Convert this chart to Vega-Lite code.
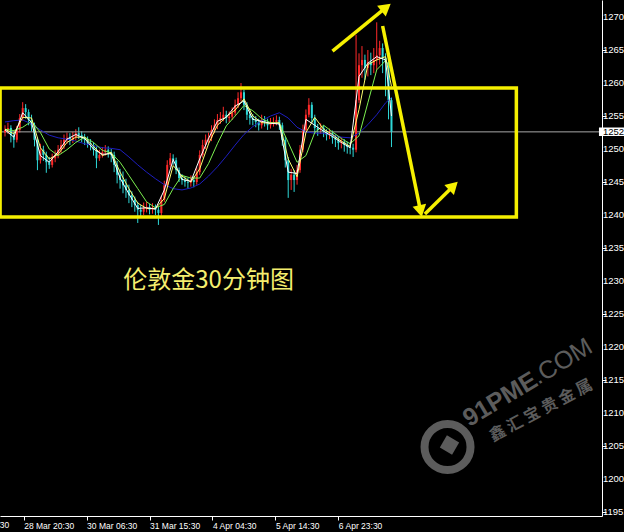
{
"$schema": "https://vega.github.io/schema/vega-lite/v6.json",
"width": 602, "height": 516,
"autosize": {"type": "none"},
"padding": {"left": 0, "top": 0, "right": 22, "bottom": 16},
"background": "#000000",
"config": {"view": {"stroke": null, "fill": "#000000"},
"axis": {"labelOverlap": false, "labelFlush": false, "labelBound": false, "grid": false, "title": null,
"domainColor": "#FFFFFF", "tickColor": "#FFFFFF", "tickSize": 4, "labelColor": "#FFFFFF",
"labelFont": "Liberation Sans", "labelFontSize": 8.5},
"axisX": {"labelAlign": "left", "labelBaseline": "top", "labelPadding": 1, "labelOffset": 0, "labelOverlap": false},
"axisY": {"labels": false}},
"datasets": {
"candles": [
{"t":0,"o":1252.5,"h":1253.6,"l":1251.9,"c":1252.9},
{"t":3,"o":1252.9,"h":1254.0,"l":1252.3,"c":1253.2},
{"t":6,"o":1253.2,"h":1253.6,"l":1251.0,"c":1252.1},
{"t":9,"o":1252.1,"h":1252.6,"l":1250.2,"c":1251.4},
{"t":12,"o":1251.4,"h":1253.5,"l":1251.0,"c":1252.9},
{"t":15,"o":1252.9,"h":1255.3,"l":1252.5,"c":1254.7},
{"t":18,"o":1254.7,"h":1257.1,"l":1254.3,"c":1256.2},
{"t":21,"o":1256.2,"h":1256.8,"l":1254.6,"c":1255.6},
{"t":24,"o":1255.6,"h":1256.0,"l":1253.6,"c":1254.4},
{"t":27,"o":1254.4,"h":1255.2,"l":1252.7,"c":1253.6},
{"t":30,"o":1253.6,"h":1254.0,"l":1250.4,"c":1251.4},
{"t":33,"o":1251.4,"h":1251.8,"l":1246.8,"c":1248.3},
{"t":36,"o":1248.3,"h":1250.8,"l":1247.8,"c":1249.9},
{"t":39,"o":1249.9,"h":1250.5,"l":1248.2,"c":1249.1},
{"t":42,"o":1249.1,"h":1249.6,"l":1246.4,"c":1248.0},
{"t":45,"o":1248.0,"h":1248.8,"l":1247.0,"c":1247.6},
{"t":48,"o":1247.6,"h":1249.3,"l":1247.2,"c":1248.6},
{"t":51,"o":1248.6,"h":1249.8,"l":1248.0,"c":1249.1},
{"t":54,"o":1249.1,"h":1250.6,"l":1248.6,"c":1249.9},
{"t":57,"o":1249.9,"h":1251.4,"l":1249.4,"c":1250.6},
{"t":60,"o":1250.6,"h":1252.2,"l":1250.0,"c":1251.4},
{"t":63,"o":1251.4,"h":1252.5,"l":1250.8,"c":1251.7},
{"t":66,"o":1251.7,"h":1252.4,"l":1250.6,"c":1251.4},
{"t":69,"o":1251.4,"h":1252.6,"l":1250.9,"c":1251.8},
{"t":72,"o":1251.8,"h":1253.0,"l":1251.3,"c":1252.4},
{"t":75,"o":1252.4,"h":1253.3,"l":1251.5,"c":1252.1},
{"t":78,"o":1252.1,"h":1252.7,"l":1251.0,"c":1251.8},
{"t":81,"o":1251.8,"h":1252.3,"l":1250.6,"c":1251.4},
{"t":84,"o":1251.4,"h":1251.9,"l":1250.2,"c":1250.9},
{"t":87,"o":1250.9,"h":1251.5,"l":1249.8,"c":1250.6},
{"t":90,"o":1250.6,"h":1251.0,"l":1249.0,"c":1249.9},
{"t":93,"o":1249.9,"h":1250.3,"l":1247.1,"c":1248.6},
{"t":96,"o":1248.6,"h":1249.9,"l":1248.2,"c":1249.1},
{"t":99,"o":1249.1,"h":1250.3,"l":1248.7,"c":1249.5},
{"t":102,"o":1249.5,"h":1250.6,"l":1249.0,"c":1249.9},
{"t":105,"o":1249.9,"h":1250.4,"l":1248.7,"c":1249.5},
{"t":108,"o":1249.5,"h":1250.0,"l":1248.0,"c":1249.1},
{"t":111,"o":1249.1,"h":1249.6,"l":1246.5,"c":1247.6},
{"t":114,"o":1247.6,"h":1248.2,"l":1244.8,"c":1246.1},
{"t":117,"o":1246.1,"h":1247.0,"l":1244.0,"c":1245.3},
{"t":120,"o":1245.3,"h":1246.6,"l":1243.3,"c":1244.5},
{"t":123,"o":1244.5,"h":1245.5,"l":1242.6,"c":1243.8},
{"t":126,"o":1243.8,"h":1244.6,"l":1241.8,"c":1243.0},
{"t":129,"o":1243.0,"h":1243.6,"l":1241.2,"c":1242.3},
{"t":132,"o":1242.3,"h":1242.8,"l":1240.5,"c":1241.5},
{"t":135,"o":1241.5,"h":1242.0,"l":1238.8,"c":1240.8},
{"t":138,"o":1240.8,"h":1241.5,"l":1239.8,"c":1240.5},
{"t":141,"o":1240.5,"h":1241.9,"l":1240.0,"c":1241.1},
{"t":144,"o":1241.1,"h":1242.0,"l":1240.4,"c":1241.2},
{"t":147,"o":1241.2,"h":1241.7,"l":1240.1,"c":1240.8},
{"t":150,"o":1240.8,"h":1241.8,"l":1240.2,"c":1241.1},
{"t":153,"o":1241.1,"h":1241.6,"l":1240.0,"c":1240.8},
{"t":156,"o":1240.8,"h":1241.2,"l":1238.5,"c":1240.3},
{"t":159,"o":1240.3,"h":1242.9,"l":1239.9,"c":1242.3},
{"t":162,"o":1242.3,"h":1245.2,"l":1242.0,"c":1244.5},
{"t":165,"o":1244.5,"h":1248.3,"l":1244.2,"c":1247.6},
{"t":168,"o":1247.6,"h":1249.4,"l":1247.2,"c":1248.6},
{"t":171,"o":1248.6,"h":1249.2,"l":1247.6,"c":1248.3},
{"t":174,"o":1248.3,"h":1248.7,"l":1246.2,"c":1246.8},
{"t":177,"o":1246.8,"h":1247.2,"l":1245.0,"c":1245.6},
{"t":180,"o":1245.6,"h":1246.2,"l":1244.6,"c":1245.3},
{"t":183,"o":1245.3,"h":1245.9,"l":1244.3,"c":1245.0},
{"t":186,"o":1245.0,"h":1245.6,"l":1244.0,"c":1244.9},
{"t":189,"o":1244.9,"h":1246.0,"l":1244.3,"c":1245.3},
{"t":192,"o":1245.3,"h":1245.9,"l":1244.2,"c":1245.0},
{"t":195,"o":1245.0,"h":1247.2,"l":1244.6,"c":1246.5},
{"t":198,"o":1246.5,"h":1249.8,"l":1246.1,"c":1249.1},
{"t":201,"o":1249.1,"h":1251.4,"l":1248.7,"c":1250.6},
{"t":204,"o":1250.6,"h":1252.2,"l":1250.0,"c":1251.4},
{"t":207,"o":1251.4,"h":1252.5,"l":1250.8,"c":1251.7},
{"t":210,"o":1251.7,"h":1253.6,"l":1251.2,"c":1252.9},
{"t":213,"o":1252.9,"h":1254.5,"l":1252.4,"c":1253.6},
{"t":216,"o":1253.6,"h":1255.3,"l":1253.0,"c":1254.4},
{"t":219,"o":1254.4,"h":1255.6,"l":1253.8,"c":1254.7},
{"t":222,"o":1254.7,"h":1256.4,"l":1254.2,"c":1255.2},
{"t":225,"o":1255.2,"h":1255.8,"l":1253.9,"c":1254.7},
{"t":228,"o":1254.7,"h":1255.7,"l":1254.1,"c":1254.9},
{"t":231,"o":1254.9,"h":1256.3,"l":1254.4,"c":1255.5},
{"t":234,"o":1255.5,"h":1257.5,"l":1255.1,"c":1256.7},
{"t":237,"o":1256.7,"h":1258.6,"l":1256.2,"c":1257.7},
{"t":240,"o":1257.7,"h":1260.0,"l":1257.2,"c":1258.6},
{"t":243,"o":1258.6,"h":1259.0,"l":1255.9,"c":1256.7},
{"t":246,"o":1256.7,"h":1257.1,"l":1254.4,"c":1255.2},
{"t":249,"o":1255.2,"h":1255.8,"l":1253.7,"c":1254.7},
{"t":252,"o":1254.7,"h":1255.3,"l":1253.6,"c":1254.4},
{"t":255,"o":1254.4,"h":1255.0,"l":1253.3,"c":1254.1},
{"t":258,"o":1254.1,"h":1254.6,"l":1252.8,"c":1253.6},
{"t":261,"o":1253.6,"h":1255.2,"l":1253.1,"c":1254.4},
{"t":264,"o":1254.4,"h":1255.0,"l":1253.4,"c":1254.1},
{"t":267,"o":1254.1,"h":1254.6,"l":1252.9,"c":1253.6},
{"t":270,"o":1253.6,"h":1254.7,"l":1253.1,"c":1253.9},
{"t":273,"o":1253.9,"h":1254.8,"l":1253.4,"c":1254.1},
{"t":276,"o":1254.1,"h":1255.1,"l":1253.6,"c":1254.4},
{"t":279,"o":1254.4,"h":1254.9,"l":1252.9,"c":1253.6},
{"t":282,"o":1253.6,"h":1254.0,"l":1250.5,"c":1251.4},
{"t":285,"o":1251.4,"h":1251.9,"l":1247.2,"c":1248.3},
{"t":288,"o":1248.3,"h":1248.8,"l":1242.6,"c":1245.3},
{"t":291,"o":1245.3,"h":1247.0,"l":1243.8,"c":1246.1},
{"t":294,"o":1246.1,"h":1246.8,"l":1243.5,"c":1245.3},
{"t":297,"o":1245.3,"h":1247.6,"l":1244.6,"c":1246.8},
{"t":300,"o":1246.8,"h":1250.6,"l":1246.4,"c":1249.9},
{"t":303,"o":1249.9,"h":1253.7,"l":1249.5,"c":1252.9},
{"t":306,"o":1252.9,"h":1256.0,"l":1252.5,"c":1255.2},
{"t":309,"o":1255.2,"h":1257.7,"l":1254.8,"c":1256.7},
{"t":312,"o":1256.7,"h":1257.1,"l":1253.9,"c":1254.7},
{"t":315,"o":1254.7,"h":1255.2,"l":1252.4,"c":1253.2},
{"t":318,"o":1253.2,"h":1253.8,"l":1252.0,"c":1252.9},
{"t":321,"o":1252.9,"h":1253.9,"l":1252.3,"c":1253.2},
{"t":324,"o":1253.2,"h":1253.6,"l":1251.8,"c":1252.6},
{"t":327,"o":1252.6,"h":1253.0,"l":1251.3,"c":1252.1},
{"t":330,"o":1252.1,"h":1253.1,"l":1251.5,"c":1252.4},
{"t":333,"o":1252.4,"h":1252.8,"l":1250.8,"c":1251.7},
{"t":336,"o":1251.7,"h":1252.2,"l":1250.3,"c":1251.4},
{"t":339,"o":1251.4,"h":1251.8,"l":1249.9,"c":1250.9},
{"t":342,"o":1250.9,"h":1251.8,"l":1250.1,"c":1251.1},
{"t":345,"o":1251.1,"h":1251.5,"l":1249.6,"c":1250.6},
{"t":348,"o":1250.6,"h":1251.1,"l":1249.3,"c":1250.3},
{"t":351,"o":1250.3,"h":1251.0,"l":1249.2,"c":1250.2},
{"t":354,"o":1250.2,"h":1250.8,"l":1248.8,"c":1249.9},
{"t":357,"o":1249.9,"h":1267.3,"l":1249.5,"c":1257.4},
{"t":360,"o":1257.4,"h":1264.5,"l":1257.0,"c":1262.7},
{"t":363,"o":1262.7,"h":1265.6,"l":1260.8,"c":1263.5},
{"t":366,"o":1263.5,"h":1264.3,"l":1260.5,"c":1262.3},
{"t":369,"o":1262.3,"h":1265.0,"l":1261.0,"c":1263.2},
{"t":372,"o":1263.2,"h":1264.6,"l":1261.2,"c":1262.7},
{"t":375,"o":1262.7,"h":1265.3,"l":1261.5,"c":1263.5},
{"t":378,"o":1263.5,"h":1269.2,"l":1262.0,"c":1264.2},
{"t":381,"o":1264.2,"h":1266.4,"l":1262.8,"c":1265.3},
{"t":384,"o":1265.3,"h":1266.0,"l":1261.5,"c":1263.8},
{"t":387,"o":1263.8,"h":1264.5,"l":1258.0,"c":1263.2},
{"t":390,"o":1263.2,"h":1263.6,"l":1254.5,"c":1257.4},
{"t":393,"o":1257.4,"h":1257.8,"l":1250.3,"c":1252.6}
],
"ma": [
{"t":0,"white":1252.9,"yellow":1253.0,"green":1253.0,"blue":1254.1},
{"t":9,"white":1251.8,"yellow":1252.3,"green":1252.8,"blue":1254.3},
{"t":18,"white":1255.5,"yellow":1254.8,"green":1253.3,"blue":1254.4},
{"t":27,"white":1254.0,"yellow":1254.7,"green":1254.2,"blue":1253.8},
{"t":36,"white":1249.0,"yellow":1250.2,"green":1252.5,"blue":1252.9},
{"t":45,"white":1248.0,"yellow":1248.5,"green":1250.0,"blue":1252.1},
{"t":54,"white":1249.6,"yellow":1249.2,"green":1249.0,"blue":1251.7},
{"t":63,"white":1251.5,"yellow":1251.0,"green":1249.9,"blue":1251.5},
{"t":72,"white":1252.2,"yellow":1251.8,"green":1251.0,"blue":1251.2},
{"t":81,"white":1251.6,"yellow":1251.8,"green":1251.8,"blue":1250.8},
{"t":90,"white":1250.0,"yellow":1250.4,"green":1251.0,"blue":1250.5},
{"t":99,"white":1249.2,"yellow":1249.0,"green":1249.8,"blue":1250.2},
{"t":108,"white":1249.3,"yellow":1249.5,"green":1249.4,"blue":1250.1},
{"t":117,"white":1245.6,"yellow":1246.5,"green":1248.0,"blue":1249.9},
{"t":126,"white":1243.2,"yellow":1244.0,"green":1246.0,"blue":1248.8},
{"t":135,"white":1241.0,"yellow":1241.8,"green":1244.0,"blue":1247.6},
{"t":144,"white":1241.1,"yellow":1241.0,"green":1242.0,"blue":1246.5},
{"t":153,"white":1240.9,"yellow":1241.0,"green":1241.1,"blue":1245.5},
{"t":162,"white":1243.8,"yellow":1242.5,"green":1241.6,"blue":1244.6},
{"t":171,"white":1248.4,"yellow":1247.5,"green":1244.0,"blue":1244.0},
{"t":180,"white":1245.4,"yellow":1245.9,"green":1246.0,"blue":1243.8},
{"t":189,"white":1245.1,"yellow":1245.0,"green":1245.6,"blue":1244.1},
{"t":198,"white":1248.5,"yellow":1247.0,"green":1245.6,"blue":1244.7},
{"t":207,"white":1251.6,"yellow":1250.8,"green":1247.8,"blue":1245.9},
{"t":216,"white":1254.2,"yellow":1253.6,"green":1250.8,"blue":1247.3},
{"t":225,"white":1254.8,"yellow":1254.9,"green":1253.5,"blue":1248.9},
{"t":234,"white":1256.5,"yellow":1255.9,"green":1255.0,"blue":1250.6},
{"t":243,"white":1257.3,"yellow":1257.6,"green":1256.6,"blue":1252.2},
{"t":252,"white":1254.5,"yellow":1255.0,"green":1255.8,"blue":1253.4},
{"t":261,"white":1254.2,"yellow":1254.0,"green":1254.6,"blue":1254.3},
{"t":270,"white":1253.9,"yellow":1253.9,"green":1254.0,"blue":1255.0},
{"t":279,"white":1253.8,"yellow":1254.0,"green":1253.9,"blue":1255.5},
{"t":288,"white":1246.5,"yellow":1248.5,"green":1251.0,"blue":1254.7},
{"t":297,"white":1246.3,"yellow":1245.8,"green":1248.0,"blue":1253.3},
{"t":306,"white":1254.5,"yellow":1252.5,"green":1249.0,"blue":1252.6},
{"t":315,"white":1253.6,"yellow":1254.8,"green":1252.5,"blue":1252.4},
{"t":324,"white":1252.7,"yellow":1253.0,"green":1253.6,"blue":1252.4},
{"t":333,"white":1251.9,"yellow":1252.2,"green":1252.6,"blue":1252.1},
{"t":342,"white":1251.0,"yellow":1251.2,"green":1251.6,"blue":1251.8},
{"t":351,"white":1250.2,"yellow":1250.4,"green":1250.8,"blue":1251.7},
{"t":360,"white":1261.0,"yellow":1256.0,"green":1252.0,"blue":1252.4},
{"t":369,"white":1263.0,"yellow":1262.8,"green":1257.0,"blue":1253.7},
{"t":378,"white":1264.0,"yellow":1263.5,"green":1262.0,"blue":1255.2},
{"t":387,"white":1263.5,"yellow":1264.0,"green":1263.4,"blue":1257.0},
{"t":393,"white":1255.0,"yellow":1259.5,"green":1262.0,"blue":1257.8}
],
"yticks": [
{"v":1195},{"v":1200},{"v":1205},{"v":1210},{"v":1215},{"v":1220},{"v":1225},{"v":1230},
{"v":1235},{"v":1240},{"v":1245},{"v":1250},{"v":1255},{"v":1260},{"v":1265},{"v":1270}
],
"arrows": [
{"x1":333,"y1":1264.85,"x2":387.5,"y2":1271.46},
{"x1":384,"y1":1268.64,"x2":422.6,"y2":1240.6},
{"x1":427,"y1":1240.16,"x2":456,"y2":1244.41}
],
"one": [{}]
},
"layer": [
{
"data": {"name": "candles"},
"mark": {"type": "rule", "strokeWidth": 1},
"encoding": {
"x": {"field": "t", "type": "quantitative", "title": null,
"scale": {"domain": [0, 602], "nice": false, "zero": false},
"axis": {"orient": "bottom", "values": [19, 83, 147, 211, 275, 339],
"labelExpr": "datum.value == 19 ? '28 Mar 20:30' : datum.value == 83 ? '30 Mar 06:30' : datum.value == 147 ? '31 Mar 15:30' : datum.value == 211 ? '4 Apr 04:30' : datum.value == 275 ? '5 Apr 14:30' : '6 Apr 23:30'",
"labelOverlap": false}},
"y": {"field": "l", "type": "quantitative", "title": null,
"scale": {"domain": [1194.4, 1272.58], "nice": false, "zero": false},
"axis": {"orient": "right", "values": [1195,1200,1205,1210,1215,1220,1225,1230,1235,1240,1245,1250,1255,1260,1265,1270], "labels": false}},
"y2": {"field": "h"},
"color": {"condition": {"test": "datum.c >= datum.o", "value": "#FF2A2A"}, "value": "#2ED8D8"}
}
},
{
"data": {"name": "yticks"},
"mark": {"type": "text", "align": "left", "baseline": "middle", "font": "Liberation Sans", "fontSize": 9.5, "color": "#FFFFFF"},
"encoding": {
"x": {"datum": 608, "type": "quantitative"},
"y": {"field": "v", "type": "quantitative"},
"text": {"field": "v", "type": "quantitative", "format": ".2f"}
}
},
{
"data": {"name": "one"},
"mark": {"type": "rule", "color": "#A8A8A8", "strokeWidth": 1},
"encoding": {
"y": {"datum": 1252.6, "type": "quantitative"}
}
},
{
"data": {"name": "candles"},
"mark": {"type": "bar", "width": 2},
"encoding": {
"x": {"field": "t", "type": "quantitative"},
"y": {"field": "o", "type": "quantitative"},
"y2": {"field": "c"},
"color": {"condition": {"test": "datum.c >= datum.o", "value": "#FF2A2A"}, "value": "#2ED8D8"}
}
},
{
"data": {"name": "ma"},
"transform": [{"fold": ["blue", "green", "yellow", "white"], "as": ["ma", "v"]}],
"mark": {"type": "line", "strokeWidth": 1},
"encoding": {
"x": {"field": "t", "type": "quantitative"},
"y": {"field": "v", "type": "quantitative"},
"color": {"field": "ma", "type": "nominal", "legend": null,
"scale": {"domain": ["blue", "green", "yellow", "white"], "range": ["#1E1EC0", "#7CF050", "#FFFF70", "#FFFFFF"]}}
}
},
{
"data": {"name": "one"},
"mark": {"type": "rect", "fill": "transparent", "stroke": "#F6F000", "strokeWidth": 3.5},
"encoding": {
"x": {"datum": -5, "type": "quantitative"},
"x2": {"datum": 520},
"y": {"datum": 1259.24, "type": "quantitative"},
"y2": {"datum": 1239.7}
}
},
{
"data": {"name": "arrows"},
"mark": {"type": "rule", "color": "#F6F000", "strokeWidth": 3.5},
"encoding": {
"x": {"field": "x1", "type": "quantitative"},
"y": {"field": "y1", "type": "quantitative"},
"x2": {"field": "x2"},
"y2": {"field": "y2"}
}
},
{
"data": {"name": "one"},
"mark": {"type": "point", "shape": "triangle-up", "filled": true, "color": "#F6F000", "size": 190, "angle": 51, "opacity": 1},
"encoding": {"x": {"datum": 387.5, "type": "quantitative"}, "y": {"datum": 1271.46, "type": "quantitative"}}
},
{
"data": {"name": "one"},
"mark": {"type": "point", "shape": "triangle-up", "filled": true, "color": "#F6F000", "size": 190, "angle": 168, "opacity": 1},
"encoding": {"x": {"datum": 422.6, "type": "quantitative"}, "y": {"datum": 1240.6, "type": "quantitative"}}
},
{
"data": {"name": "one"},
"mark": {"type": "point", "shape": "triangle-up", "filled": true, "color": "#F6F000", "size": 190, "angle": 46, "opacity": 1},
"encoding": {"x": {"datum": 456, "type": "quantitative"}, "y": {"datum": 1244.41, "type": "quantitative"}}
},
{
"data": {"name": "one"},
"mark": {"type": "rect", "fill": "#FFFFFF"},
"encoding": {
"x": {"datum": 604, "type": "quantitative"},
"x2": {"datum": 640},
"y": {"datum": 1253.26, "type": "quantitative"},
"y2": {"datum": 1251.97}
}
},
{
"data": {"name": "one"},
"mark": {"type": "text", "text": "1252.65", "align": "left", "baseline": "middle", "font": "Liberation Sans", "fontSize": 9.5, "color": "#000000"},
"encoding": {"x": {"datum": 608, "type": "quantitative"}, "y": {"datum": 1252.61, "type": "quantitative"}}
},
{
"data": {"name": "one"},
"mark": {"type": "text", "text": "27 Mar 11:30", "align": "left", "baseline": "top", "font": "Liberation Sans", "fontSize": 8.5, "color": "#FFFFFF"},
"encoding": {"x": {"datum": -46, "type": "quantitative"}, "y": {"datum": 1193.65, "type": "quantitative"}}
},
{
"data": {"name": "one"},
"mark": {"type": "text", "text": "伦敦金30分钟图", "align": "center", "baseline": "middle", "font": "Noto Sans CJK SC", "fontSize": 24, "color": "#F4EE6E"},
"encoding": {"x": {"datum": 207, "type": "quantitative"}, "y": {"datum": 1230.0, "type": "quantitative"}}
},
{
"data": {"name": "one"},
"mark": {"type": "point", "shape": "circle", "filled": false, "color": "#5C5C5C", "strokeWidth": 8, "size": 2116, "opacity": 1},
"encoding": {"x": {"datum": 450, "type": "quantitative"}, "y": {"datum": 1204.85, "type": "quantitative"}}
},
{
"data": {"name": "one"},
"mark": {"type": "point", "shape": "square", "filled": true, "color": "#5C5C5C", "size": 200, "angle": 30, "opacity": 1},
"encoding": {"x": {"datum": 452, "type": "quantitative"}, "y": {"datum": 1205.16, "type": "quantitative"}}
},
{
"data": {"name": "one"},
"mark": {"type": "text", "text": "91PME", "align": "center", "baseline": "middle", "font": "Liberation Sans", "fontWeight": "bold", "fontSize": 25, "angle": -31, "color": "#5C5C5C"},
"encoding": {"x": {"datum": 503.5, "type": "quantitative"}, "y": {"datum": 1212.1, "type": "quantitative"}}
},
{
"data": {"name": "one"},
"mark": {"type": "text", "text": ".COM", "align": "center", "baseline": "middle", "font": "Liberation Sans", "fontWeight": "normal", "fontSize": 25, "angle": -31, "color": "#5C5C5C"},
"encoding": {"x": {"datum": 566.5, "type": "quantitative"}, "y": {"datum": 1217.84, "type": "quantitative"}}
},
{
"data": {"name": "one"},
"mark": {"type": "text", "text": "鑫  汇  宝  贵  金  属", "align": "center", "baseline": "middle", "font": "Noto Sans CJK SC", "fontWeight": "bold", "fontSize": 16, "angle": -28, "color": "#5C5C5C"},
"encoding": {"x": {"datum": 545, "type": "quantitative"}, "y": {"datum": 1210.38, "type": "quantitative"}}
}
]
}
